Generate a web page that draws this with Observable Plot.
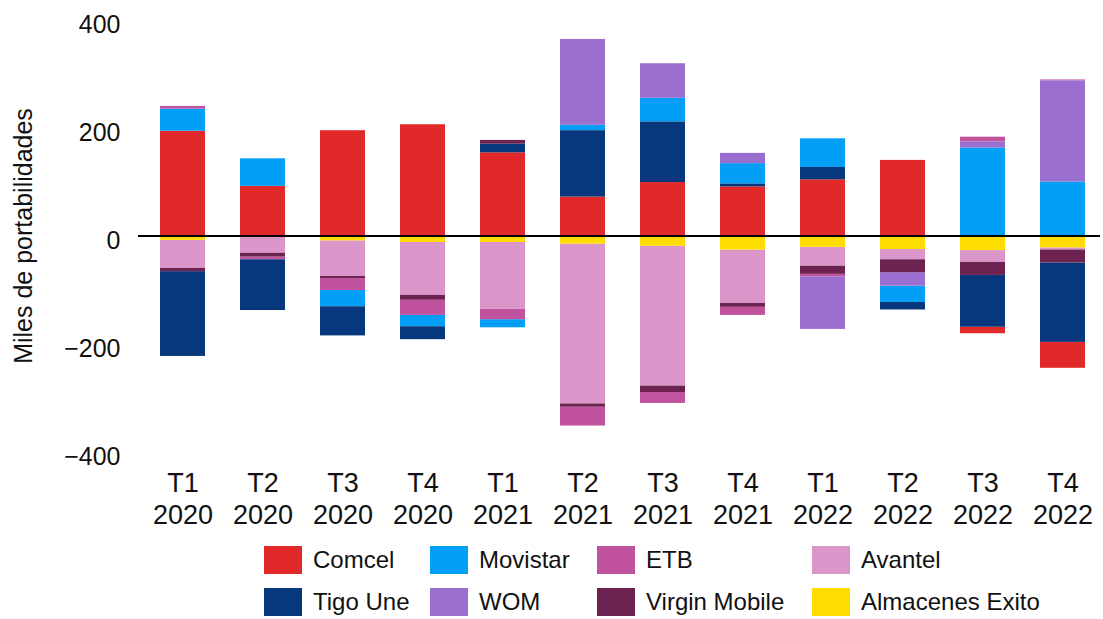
<!DOCTYPE html>
<html>
<head>
<meta charset="utf-8">
<script src="https://cdn.jsdelivr.net/npm/d3@7"></script>
<script src="https://cdn.jsdelivr.net/npm/@observablehq/plot@0.6"></script>
<style>
  html, body { margin: 0; padding: 0; background: #fff; }
  #wrap { position: relative; width: 1103px; height: 619px; font-family: "Liberation Sans", Arial, sans-serif; }
  #wrap svg { position: absolute; left: 0; top: 0; }
  .item { position: absolute; display: flex; align-items: center; font-size: 24px; color: #111; white-space: nowrap; }
  .sw { width: 38px; height: 28px; margin-right: 11px; }
</style>
</head>
<body>
<div id="wrap"></div>
<script>
const quarters = ["T1\n2020","T2\n2020","T3\n2020","T4\n2020","T1\n2021","T2\n2021","T3\n2021","T4\n2021","T1\n2022","T2\n2022","T3\n2022","T4\n2022"];
const operators = ["Comcel","Movistar","ETB","Avantel","Tigo Une","WOM","Virgin Mobile","Almacenes Exito"];
const colors = ["#E12929","#039FF7","#C0529E","#DB96C9","#07377C","#9A6FCF","#6D2350","#FFDD00"];

const comcel   = [194, 92, 195, 206, 154, 72, 99, 91, 104, 140, -12, -48];
const movistar = [41, 51, -30, -21, -15, 10, 44, 38, 53, -30, 163, 100];
const etb      = [5, -5, -22, -28, -19, -35, -20, -15, -5, 0, 9, 2];
const avantel  = [-52, -32, -66, -98, -124, -296, -259, -99, -35, -19, -22, -4];
const tigoUne  = [-157, -94, -54, -24, 16, 123, 112, 5, 23, -14, -96, -147];
const wom      = [0, 0, 0, 0, 0, 159, 64, 19, -97, -25, 11, 187];
const virgin   = [-6, -7, -4, -9, 7, -6, -12, -7, -15, -24, -24, -24];
const exito    = [-8, 0, -9, -12, -12, -15, -19, -26, -21, -25, -27, -22];

const yTicks = [-400, -200, 0, 200, 400];

const seriesValues = [comcel, movistar, etb, avantel, tigoUne, wom, virgin, exito];
const rows = [];
operators.forEach((op, i) => {
  quarters.forEach((q, j) => rows.push({quarter: q, operator: op, value: seriesValues[i][j]}));
});
const pos = rows.filter(d => d.value > 0);
const neg = rows.filter(d => d.value < 0);
const posOrder = ["Comcel","Tigo Une","Movistar","WOM","ETB","Virgin Mobile","Avantel","Almacenes Exito"];
const negOrder = ["Almacenes Exito","Avantel","Virgin Mobile","ETB","WOM","Movistar","Tigo Une","Comcel"];

const chart = Plot.plot({
  width: 1103,
  height: 530,
  marginTop: 19.5,
  marginBottom: 78.5,
  marginLeft: 138,
  marginRight: 3,
  style: {fontFamily: '"Liberation Sans", Arial, sans-serif', color: "#111", background: "transparent"},
  x: {domain: quarters, range: [149, 1096], paddingInner: 0.44, paddingOuter: 0.1},
  y: {domain: [-400, 400]},
  color: {domain: operators, range: colors},
  marks: [
    Plot.barY(pos, Plot.stackY({order: posOrder}, {x: "quarter", y: "value", z: "operator", fill: "operator"})),
    Plot.barY(neg, Plot.stackY({order: negOrder}, {x: "quarter", y: "value", z: "operator", fill: "operator"})),
    Plot.ruleY([0], {stroke: "#000", strokeWidth: 2}),
    Plot.axisY({ticks: yTicks, tickSize: 0, tickPadding: 18, fontSize: 25, dy: 5, label: null}),
    Plot.axisX({tickSize: 0, tickPadding: 17, fontSize: 27, lineHeight: 1.185, label: null}),
    Plot.text(["Miles de portabilidades"], {frameAnchor: "left", textAnchor: "middle", rotate: -90, dx: -115, fontSize: 25, fill: "#111"})
  ]
});
const wrap = document.getElementById("wrap");
wrap.appendChild(chart);

const legendX = [264, 430, 597, 812];
const legendY = [546, 588];
operators.forEach((op, i) => {
  const col = i % 4, row = Math.floor(i / 4);
  const it = document.createElement("div");
  it.className = "item";
  it.style.left = legendX[col] + "px";
  it.style.top = legendY[row] + "px";
  it.style.height = "28px";
  const sw = document.createElement("div");
  sw.className = "sw";
  sw.style.background = colors[i];
  const tx = document.createElement("span");
  tx.textContent = op;
  it.appendChild(sw);
  it.appendChild(tx);
  wrap.appendChild(it);
});
</script>
</body>
</html>
